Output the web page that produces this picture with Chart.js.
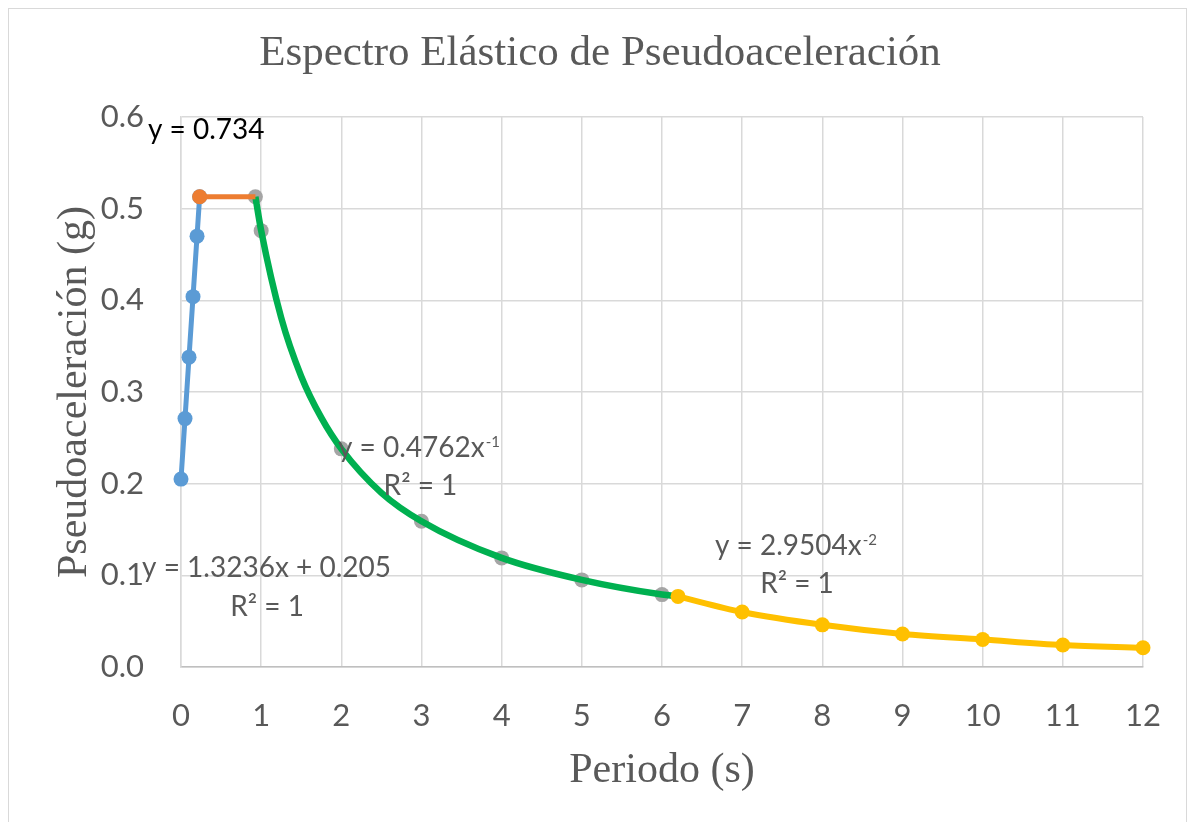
<!DOCTYPE html>
<html>
<head>
<meta charset="utf-8">
<title>Espectro Elástico de Pseudoaceleración</title>
<script src="https://cdn.jsdelivr.net/npm/chart.js@4.4.1/dist/chart.umd.min.js"></script>
<style>
  html, body { margin: 0; padding: 0; background: #ffffff; }
  canvas { display: block; }
</style>
</head>
<body>
<canvas id="spectrum" width="1193" height="822"></canvas>
<script>
// Periodo T (s) y pseudoaceleración Sa (g) por tramo del espectro
const T_ASC  = [0, 0.05, 0.10, 0.15, 0.20, 0.2325];
const SA_ASC = [0.205, 0.271, 0.338, 0.404, 0.470, 0.513];

const T_PLAT  = [0.2325, 0.928];
const SA_PLAT = [0.513, 0.513];

const T_DESC  = [0.928, 1, 2, 3, 4, 5, 6];
const SA_DESC = [0.513, 0.476, 0.238, 0.159, 0.119, 0.095, 0.079];

const T_LONG  = [6.2, 7, 8, 9, 10, 11, 12];
const SA_LONG = [0.077, 0.060, 0.046, 0.036, 0.030, 0.024, 0.021];

// Línea de tendencia potencial del tramo descendente (muestras de la curva)
const T_FIT  = [0.928, 1, 1.25, 1.5, 1.75, 2, 2.5, 3, 4, 5, 6, 6.2];
const SA_FIT = [0.513, 0.476, 0.381, 0.317, 0.272, 0.238, 0.190, 0.159, 0.119, 0.095, 0.079, 0.077];

// Rótulos de ejes
const X_TICKS = [0, 1, 2, 3, 4, 5, 6, 7, 8, 9, 10, 11, 12];
const Y_TICKS = [0.0, 0.1, 0.2, 0.3, 0.4, 0.5, 0.6];

const TEXT_GREY = '#595959';
const TICK_FONT = { family: 'Lato', size: 31 };
const SERIF_FONT = { family: 'Liberation Serif', size: 42 };

const toPoints = (xs, ys) => xs.map((x, i) => ({ x, y: ys[i] }));

// Marco exterior del gráfico
const frame = {
  id: 'frame',
  beforeDraw(chart) {
    const { ctx, width, height } = chart;
    ctx.save();
    ctx.fillStyle = '#ffffff';
    ctx.fillRect(0, 0, width, height);
    ctx.strokeStyle = '#d9d9d9';
    ctx.lineWidth = 1;
    ctx.strokeRect(8.5, 8.5, 1178, height + 20);
    ctx.restore();
  }
};

// Ecuaciones de las líneas de tendencia (posiciones en unidades de los ejes)
const trendLabels = {
  id: 'trendLabels',
  afterDatasetsDraw(chart) {
    const { ctx } = chart;
    const xs = chart.scales.x, ys = chart.scales.y;
    const px = v => xs.getPixelForValue(v);
    const py = v => ys.getPixelForValue(v);
    const main = "28px Lato";
    const sup = "15px Lato";

    function plain(text, x, y, align, color) {
      ctx.font = main;
      ctx.fillStyle = color;
      ctx.textAlign = align;
      ctx.textBaseline = 'alphabetic';
      ctx.fillText(text, x, y);
    }
    function withExponent(text, exp, x, y) {
      ctx.font = main;
      ctx.fillStyle = TEXT_GREY;
      ctx.textAlign = 'left';
      ctx.textBaseline = 'alphabetic';
      ctx.fillText(text, x, y);
      const w = ctx.measureText(text).width;
      ctx.font = sup;
      ctx.fillText(exp, x + w + 1, y - 10);
    }

    ctx.save();
    plain('y = 0.734', px(-0.412), py(0.576), 'left', '#000000');

    plain('y = 1.3236x + 0.205', px(1.067), py(0.0982), 'center', TEXT_GREY);
    plain('R\u00B2 = 1', px(1.073), py(0.0556), 'center', TEXT_GREY);

    withExponent('y = 0.4762x', '-1', px(1.958), py(0.229));
    plain('R\u00B2 = 1', px(2.987), py(0.1876), 'center', TEXT_GREY);

    withExponent('y = 2.9504x', '-2', px(6.661), py(0.1222));
    plain('R\u00B2 = 1', px(7.684), py(0.0804), 'center', TEXT_GREY);
    ctx.restore();
  }
};

const ctx = document.getElementById('spectrum').getContext('2d');

new Chart(ctx, {
  type: 'scatter',
  data: {
    datasets: [
      {
        label: 'Tramo ascendente',
        data: toPoints(T_ASC, SA_ASC),
        showLine: true,
        borderColor: '#5B9BD5',
        backgroundColor: '#5B9BD5',
        borderWidth: 5,
        pointRadius: 7.5,
        pointBorderWidth: 0,
        order: 3,
        clip: false
      },
      {
        label: 'Meseta',
        data: toPoints(T_PLAT, SA_PLAT),
        showLine: true,
        borderColor: '#ED7D31',
        backgroundColor: '#ED7D31',
        borderWidth: 5,
        pointRadius: [7.5, 0],
        pointBorderWidth: 0,
        order: 2,
        clip: false
      },
      {
        label: 'Tramo descendente',
        data: toPoints(T_DESC, SA_DESC),
        showLine: false,
        borderColor: '#A5A5A5',
        backgroundColor: '#A5A5A5',
        pointRadius: 7.5,
        pointBorderWidth: 0,
        order: 5,
        clip: false
      },
      {
        label: 'Tendencia potencial (tramo descendente)',
        data: toPoints(T_FIT, SA_FIT),
        showLine: true,
        cubicInterpolationMode: 'monotone',
        borderColor: '#00B050',
        backgroundColor: '#00B050',
        borderWidth: 6.5,
        pointRadius: 0,
        order: 4,
        clip: false
      },
      {
        label: 'Periodos largos',
        data: toPoints(T_LONG, SA_LONG),
        showLine: true,
        cubicInterpolationMode: 'monotone',
        borderColor: '#FFC000',
        backgroundColor: '#FFC000',
        borderWidth: 6,
        pointRadius: 7.5,
        pointBorderWidth: 0,
        order: 1,
        clip: false
      }
    ]
  },
  options: {
    responsive: false,
    animation: false,
    events: [],
    layout: { padding: { left: 8, right: 1, top: 0, bottom: 0 } },
    plugins: {
      legend: { display: false },
      tooltip: { enabled: false },
      title: {
        display: true,
        text: 'Espectro Elástico de Pseudoaceleración',
        color: TEXT_GREY,
        font: { family: 'Liberation Serif', size: 43, weight: 'normal' },
        padding: { top: 28, bottom: 37.4 }
      }
    },
    scales: {
      x: {
        type: 'linear',
        position: 'bottom',
        min: X_TICKS[0],
        max: X_TICKS[X_TICKS.length - 1],
        afterBuildTicks(scale) { scale.ticks = X_TICKS.map(v => ({ value: v })); },
        afterFit(scale) { scale.height = 155; },
        ticks: {
          color: TEXT_GREY,
          font: TICK_FONT,
          padding: 30,
          maxRotation: 0,
          autoSkip: false,
          callback: v => String(v)
        },
        grid: { color: '#d9d9d9', lineWidth: 1.5, drawTicks: false, tickLength: 0 },
        border: { color: '#bfbfbf', width: 1.5 },
        title: {
          display: true,
          text: 'Periodo (s)',
          color: TEXT_GREY,
          font: SERIF_FONT,
          padding: { top: 0, bottom: 26 }
        }
      },
      y: {
        type: 'linear',
        position: 'left',
        min: Y_TICKS[0],
        max: Y_TICKS[Y_TICKS.length - 1],
        afterBuildTicks(scale) { scale.ticks = Y_TICKS.map(v => ({ value: v })); },
        afterFit(scale) { scale.width = 173; },
        ticks: {
          color: TEXT_GREY,
          font: TICK_FONT,
          padding: 37,
          autoSkip: false,
          callback: v => Number(v).toFixed(1)
        },
        grid: { color: '#d9d9d9', lineWidth: 1.5, drawTicks: false, tickLength: 0 },
        border: { color: '#d9d9d9', width: 1.5 },
        title: {
          display: true,
          text: 'Pseudoaceleración (g)',
          color: TEXT_GREY,
          font: SERIF_FONT,
          padding: { top: 42, bottom: 0 }
        }
      },
      yRight: {
        type: 'linear',
        position: 'right',
        display: true,
        min: 0,
        max: 1,
        afterFit(scale) { scale.width = 49; },
        ticks: { display: false },
        grid: { display: false, drawTicks: false },
        border: { display: false },
        title: { display: false }
      }
    }
  },
  plugins: [frame, trendLabels]
});
</script>
</body>
</html>
